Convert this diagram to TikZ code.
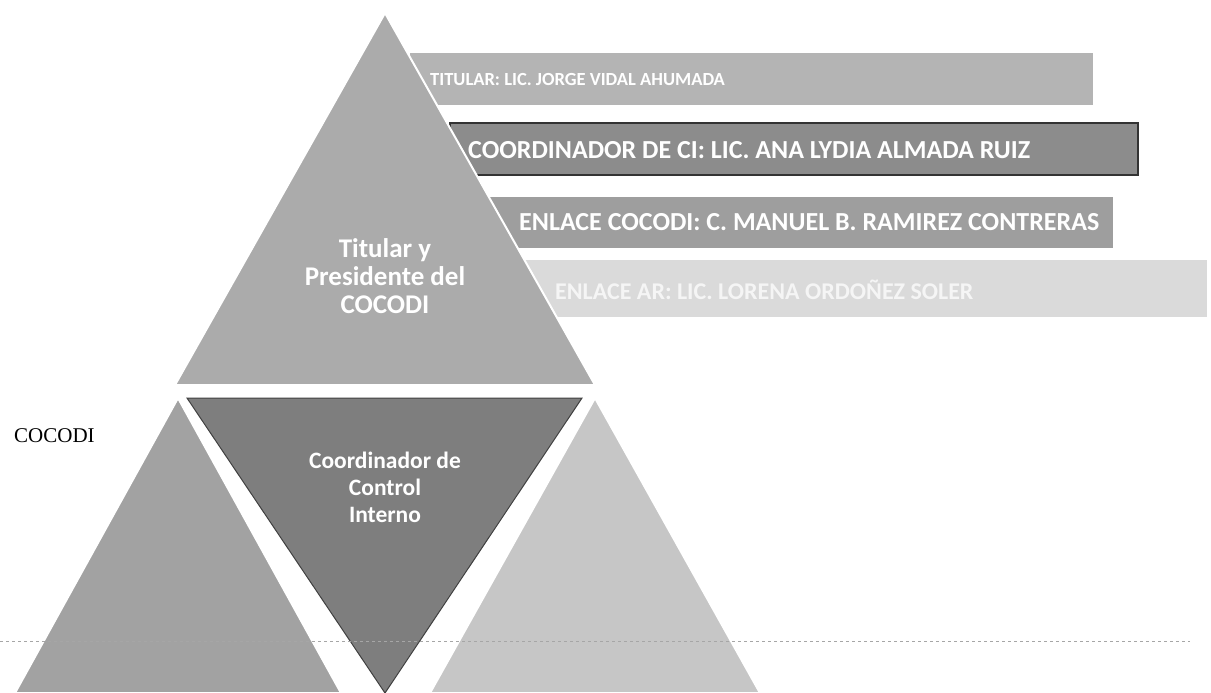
\documentclass[tikz,border=0pt]{standalone}
\usepackage{fontspec}
\setmainfont{Carlito}
\newfontfamily\serifcocodi{Liberation Serif}
\definecolor{gTop}{HTML}{ABABAB}
\definecolor{gLeft}{HTML}{A2A2A2}
\definecolor{gMid}{HTML}{7E7E7E}
\definecolor{gRight}{HTML}{C6C6C6}
\definecolor{gBarA}{HTML}{B4B4B4}
\definecolor{gBarB}{HTML}{8C8C8C}
\definecolor{gBarC}{HTML}{9E9E9E}
\definecolor{gBarD}{HTML}{DADADA}
\tikzset{
  tri/.style={draw=white, line width=2pt, line join=miter},
  bartext/.style={anchor=west, text=white, font=\bfseries, inner sep=0pt},
  tritext/.style={align=center, text=white, font=\bfseries, inner sep=0pt},
}
\begin{document}
\begin{tikzpicture}[x=1pt,y=-1pt]
\useasboundingbox (0,0) rectangle (1211,693);
% bars (behind the top triangle)
\fill[gBarA] (410,53) rectangle (1093,105);
\filldraw[fill=gBarB, draw=black!80, line width=1.2pt] (450,123) rectangle (1138,175);
\fill[gBarC] (490,197) rectangle (1113,248);
\fill[gBarD] (525,260) rectangle (1207,317);
% triangles
\path[tri, fill=gTop] (385,13) -- (595,385) -- (175,385) -- cycle;
\path[tri, fill=gLeft] (178,398) -- (341,693) -- (15,693) -- cycle;
\path[tri, fill=gRight] (595,398) -- (760,693) -- (430,693) -- cycle;
\path[fill=gMid, draw=black!75, line width=1pt] (187,398) -- (582,398) -- (385,693) -- cycle;
% texts
\node[bartext, font=\bfseries\fontsize{18.5}{22}\selectfont] (t1) at (430,80) {TITULAR: LIC. JORGE VIDAL AHUMADA};
\node[bartext, font=\bfseries\fontsize{26}{30}\selectfont] (t2) at (468,150) {COORDINADOR DE CI: LIC. ANA LYDIA ALMADA RUIZ};
\node[bartext, font=\bfseries\fontsize{26}{30}\selectfont] (t3) at (519,222) {ENLACE COCODI: C. MANUEL B. RAMIREZ CONTRERAS};
\node[bartext, text=white!96!black, font=\bfseries\fontsize{24}{28}\selectfont] (t4) at (555,290) {ENLACE AR: LIC. LORENA ORDOÑEZ SOLER};
\node[tritext, font=\bfseries\fontsize{27}{28}\selectfont] (tp) at (385,276) {Titular y\\Presidente del\\COCODI};
\node[tritext, font=\bfseries\fontsize{23.5}{27}\selectfont] (tm) at (385,487) {Coordinador de\\Control\\Interno};
\node[font=\serifcocodi\fontsize{21}{24}\selectfont, anchor=west, inner sep=0pt] (lab) at (14,436) {COCODI};
% dashed line
\coordinate (l1) at (0,641);
\coordinate (l2) at (1190,641);
\draw[gray!70, dashed, line width=0.8pt] (l1) -- (l2);
\end{tikzpicture}
\end{document}
